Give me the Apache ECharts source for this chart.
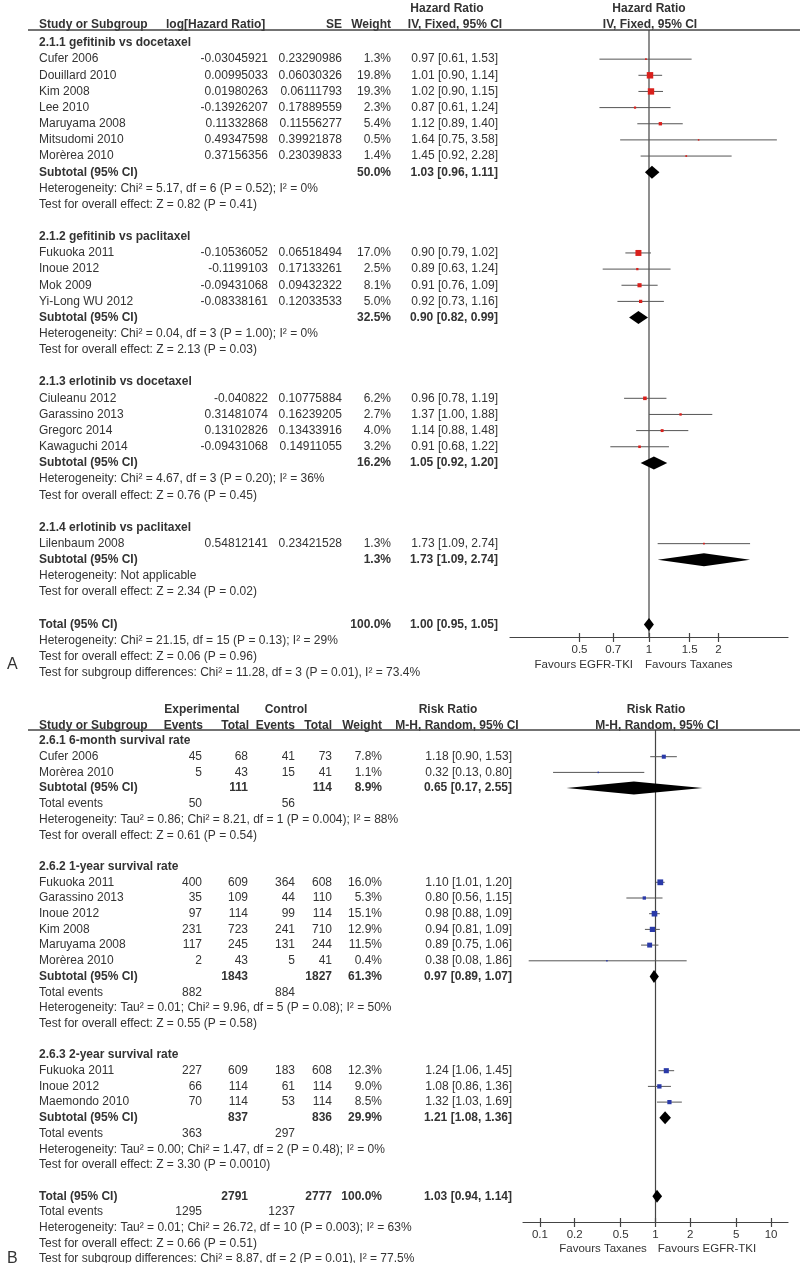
<!DOCTYPE html>
<html><head><meta charset="utf-8">
<script src="https://cdn.jsdelivr.net/npm/echarts@6/dist/echarts.min.js"></script>
<style>html,body{margin:0;padding:0;background:#fff}#c{width:800px;height:1263px}</style>
</head><body><div id="c"></div>
<script>
// ---------- Panel A data (Hazard Ratio, IV, Fixed) ----------
const groupsA = ['2.1.1 gefitinib vs docetaxel', '2.1.2 gefitinib vs paclitaxel', '2.1.3 erlotinib vs docetaxel', '2.1.4 erlotinib vs paclitaxel'];
const studyNamesA = [
  ['Cufer 2006', 'Douillard 2010', 'Kim 2008', 'Lee 2010', 'Maruyama 2008', 'Mitsudomi 2010', 'Morèrea 2010'],
  ['Fukuoka 2011', 'Inoue 2012', 'Mok 2009', 'Yi-Long WU 2012'],
  ['Ciuleanu 2012', 'Garassino 2013', 'Gregorc 2014', 'Kawaguchi 2014'],
  ['Lilenbaum 2008']
];
const logHRA = [
  [-0.03045921, 0.00995033, 0.01980263, -0.13926207, 0.11332868, 0.49347598, 0.37156356],
  [-0.10536052, -0.1199103, -0.09431068, -0.08338161],
  [-0.040822, 0.31481074, 0.13102826, -0.09431068],
  [0.54812141]
];
const seA = [
  [0.23290986, 0.06030326, 0.06111793, 0.17889559, 0.11556277, 0.39921878, 0.23039833],
  [0.06518494, 0.17133261, 0.09432322, 0.12033533],
  [0.10775884, 0.16239205, 0.13433916, 0.14911055],
  [0.23421528]
];
const weightA = [[1.3, 19.8, 19.3, 2.3, 5.4, 0.5, 1.4], [17.0, 2.5, 8.1, 5.0], [6.2, 2.7, 4.0, 3.2], [1.3]];
const hrA = [[0.97, 1.01, 1.02, 0.87, 1.12, 1.64, 1.45], [0.90, 0.89, 0.91, 0.92], [0.96, 1.37, 1.14, 0.91], [1.73]];
const hrLowA = [[0.61, 0.90, 0.90, 0.61, 0.89, 0.75, 0.92], [0.79, 0.63, 0.76, 0.73], [0.78, 1.00, 0.88, 0.68], [1.09]];
const hrHighA = [[1.53, 1.14, 1.15, 1.24, 1.40, 3.58, 2.28], [1.02, 1.24, 1.09, 1.16], [1.19, 1.88, 1.48, 1.22], [2.74]];
const subWeightA = [50.0, 32.5, 16.2, 1.3];
const subHRA = [1.03, 0.90, 1.05, 1.73];
const subLowA = [0.96, 0.82, 0.92, 1.09];
const subHighA = [1.11, 0.99, 1.20, 2.74];
const hetA = [
  'Heterogeneity: Chi² = 5.17, df = 6 (P = 0.52); I² = 0%',
  'Heterogeneity: Chi² = 0.04, df = 3 (P = 1.00); I² = 0%',
  'Heterogeneity: Chi² = 4.67, df = 3 (P = 0.20); I² = 36%',
  'Heterogeneity: Not applicable'
];
const testA = [
  'Test for overall effect: Z = 0.82 (P = 0.41)',
  'Test for overall effect: Z = 2.13 (P = 0.03)',
  'Test for overall effect: Z = 0.76 (P = 0.45)',
  'Test for overall effect: Z = 2.34 (P = 0.02)'
];
const totalA = { weight: 100.0, hr: 1.00, low: 0.95, high: 1.05 };
const totalNotesA = [
  'Heterogeneity: Chi² = 21.15, df = 15 (P = 0.13); I² = 29%',
  'Test for overall effect: Z = 0.06 (P = 0.96)',
  'Test for subgroup differences: Chi² = 11.28, df = 3 (P = 0.01), I² = 73.4%'
];
const ticksA = [0.5, 0.7, 1, 1.5, 2];

// ---------- Panel B data (Risk Ratio, M-H, Random) ----------
const groupsB = ['2.6.1 6-month survival rate', '2.6.2 1-year survival rate', '2.6.3 2-year survival rate'];
const studyNamesB = [
  ['Cufer 2006', 'Morèrea 2010'],
  ['Fukuoka 2011', 'Garassino 2013', 'Inoue 2012', 'Kim 2008', 'Maruyama 2008', 'Morèrea 2010'],
  ['Fukuoka 2011', 'Inoue 2012', 'Maemondo 2010']
];
const expEventsB = [[45, 5], [400, 35, 97, 231, 117, 2], [227, 66, 70]];
const expTotalB = [[68, 43], [609, 109, 114, 723, 245, 43], [609, 114, 114]];
const ctlEventsB = [[41, 15], [364, 44, 99, 241, 131, 5], [183, 61, 53]];
const ctlTotalB = [[73, 41], [608, 110, 114, 710, 244, 41], [608, 114, 114]];
const weightB = [[7.8, 1.1], [16.0, 5.3, 15.1, 12.9, 11.5, 0.4], [12.3, 9.0, 8.5]];
const rrB = [[1.18, 0.32], [1.10, 0.80, 0.98, 0.94, 0.89, 0.38], [1.24, 1.08, 1.32]];
const rrLowB = [[0.90, 0.13], [1.01, 0.56, 0.88, 0.81, 0.75, 0.08], [1.06, 0.86, 1.03]];
const rrHighB = [[1.53, 0.80], [1.20, 1.15, 1.09, 1.09, 1.06, 1.86], [1.45, 1.36, 1.69]];
const subExpTotalB = [111, 1843, 837];
const subCtlTotalB = [114, 1827, 836];
const subExpEventsB = [50, 882, 363];
const subCtlEventsB = [56, 884, 297];
const subWeightB = [8.9, 61.3, 29.9];
const subRRB = [0.65, 0.97, 1.21];
const subLowB = [0.17, 0.89, 1.08];
const subHighB = [2.55, 1.07, 1.36];
const hetB = [
  'Heterogeneity: Tau² = 0.86; Chi² = 8.21, df = 1 (P = 0.004); I² = 88%',
  'Heterogeneity: Tau² = 0.01; Chi² = 9.96, df = 5 (P = 0.08); I² = 50%',
  'Heterogeneity: Tau² = 0.00; Chi² = 1.47, df = 2 (P = 0.48); I² = 0%'
];
const testB = [
  'Test for overall effect: Z = 0.61 (P = 0.54)',
  'Test for overall effect: Z = 0.55 (P = 0.58)',
  'Test for overall effect: Z = 3.30 (P = 0.0010)'
];
const totalB = { expTotal: 2791, ctlTotal: 2777, expEvents: 1295, ctlEvents: 1237, weight: 100.0, rr: 1.03, low: 0.94, high: 1.14 };
const totalNotesB = [
  'Heterogeneity: Tau² = 0.01; Chi² = 26.72, df = 10 (P = 0.003); I² = 63%',
  'Test for overall effect: Z = 0.66 (P = 0.51)',
  'Test for subgroup differences: Chi² = 8.87, df = 2 (P = 0.01), I² = 77.5%'
];
const ticksB = [0.1, 0.2, 0.5, 1, 2, 5, 10];

// ---------- layout / style ----------
const FONT = '"Liberation Sans", Arial, Helvetica, sans-serif';
const TXT = '#333';
const LINE = '#555';
const colsA = [{ x: 39, a: 'left' }, { x: 268, a: 'right' }, { x: 342, a: 'right' }, { x: 391, a: 'right' }, { x: 498, a: 'right' }];
const colsB = [{ x: 39, a: 'left' }, { x: 202, a: 'right' }, { x: 248, a: 'right' }, { x: 295, a: 'right' }, { x: 332, a: 'right' }, { x: 382, a: 'right' }, { x: 512, a: 'right' }];
const fmtCI = (e, l, h) => e.toFixed(2) + ' [' + l.toFixed(2) + ', ' + h.toFixed(2) + ']';
const pct = w => w.toFixed(1) + '%';

// rows: y = first + pitch * row
const rowA = { first: 43, pitch: 16.15, top: 30, axis: 637 };
const rowB = { first: 741, pitch: 15.7, top: 730, axis: 1222 };

// ---------- build rows A ----------
const rowsA = [], marksA = [], diamondsA = [];
(function () {
  let r = 0;
  groupsA.forEach((g, gi) => {
    rowsA.push({ r: r++, bold: true, cells: [g] });
    studyNamesA[gi].forEach((n, i) => {
      rowsA.push({ r: r, bold: false, cells: [n, String(logHRA[gi][i]), String(seA[gi][i]), pct(weightA[gi][i]), fmtCI(hrA[gi][i], hrLowA[gi][i], hrHighA[gi][i])] });
      marksA.push([hrA[gi][i], hrLowA[gi][i], hrHighA[gi][i], r, weightA[gi][i]]);
      r++;
    });
    rowsA.push({ r: r, bold: true, cells: ['Subtotal (95% CI)', '', '', pct(subWeightA[gi]), fmtCI(subHRA[gi], subLowA[gi], subHighA[gi])] });
    diamondsA.push([subHRA[gi], subLowA[gi], subHighA[gi], r]);
    r++;
    rowsA.push({ r: r++, bold: false, note: true, cells: [hetA[gi]] });
    rowsA.push({ r: r++, bold: false, note: true, cells: [testA[gi]] });
    r++;
  });
  rowsA.push({ r: r, bold: true, cells: ['Total (95% CI)', '', '', pct(totalA.weight), fmtCI(totalA.hr, totalA.low, totalA.high)] });
  diamondsA.push([totalA.hr, totalA.low, totalA.high, r]);
  r++;
  totalNotesA.forEach(t => rowsA.push({ r: r++, bold: false, note: true, cells: [t] }));
})();

// ---------- build rows B ----------
const rowsB = [], marksB = [], diamondsB = [];
(function () {
  let r = 0;
  groupsB.forEach((g, gi) => {
    rowsB.push({ r: r++, bold: true, cells: [g] });
    studyNamesB[gi].forEach((n, i) => {
      rowsB.push({ r: r, bold: false, cells: [n, String(expEventsB[gi][i]), String(expTotalB[gi][i]), String(ctlEventsB[gi][i]), String(ctlTotalB[gi][i]), pct(weightB[gi][i]), fmtCI(rrB[gi][i], rrLowB[gi][i], rrHighB[gi][i])] });
      marksB.push([rrB[gi][i], rrLowB[gi][i], rrHighB[gi][i], r, weightB[gi][i]]);
      r++;
    });
    rowsB.push({ r: r, bold: true, cells: ['Subtotal (95% CI)', '', String(subExpTotalB[gi]), '', String(subCtlTotalB[gi]), pct(subWeightB[gi]), fmtCI(subRRB[gi], subLowB[gi], subHighB[gi])] });
    diamondsB.push([subRRB[gi], subLowB[gi], subHighB[gi], r]);
    r++;
    rowsB.push({ r: r++, bold: false, cells: ['Total events', String(subExpEventsB[gi]), '', String(subCtlEventsB[gi])] });
    rowsB.push({ r: r++, bold: false, note: true, cells: [hetB[gi]] });
    rowsB.push({ r: r++, bold: false, note: true, cells: [testB[gi]] });
    r++;
  });
  rowsB.push({ r: r, bold: true, cells: ['Total (95% CI)', '', String(totalB.expTotal), '', String(totalB.ctlTotal), pct(totalB.weight), fmtCI(totalB.rr, totalB.low, totalB.high)] });
  diamondsB.push([totalB.rr, totalB.low, totalB.high, r]);
  r++;
  rowsB.push({ r: r++, bold: false, cells: ['Total events', String(totalB.expEvents), '', String(totalB.ctlEvents)] });
  totalNotesB.forEach(t => rowsB.push({ r: r++, bold: false, note: true, cells: [t] }));
})();

// ---------- render helpers ----------
function txt(x, y, s, align, bold, size) {
  return { type: 'text', style: { text: s, x: x, y: y, fill: TXT, fontFamily: FONT, fontSize: size || 12, fontWeight: bold ? 'bold' : 'normal', align: align, verticalAlign: 'middle' } };
}
function textSeries(rows, cols, gi) {
  return {
    type: 'custom', xAxisIndex: gi * 2, yAxisIndex: gi, clip: false, silent: true, z: 5,
    data: rows.map(r => [1, r.r]),
    renderItem: function (params, api) {
      const row = rows[params.dataIndex];
      const y = api.coord([1, api.value(1)])[1];
      const ch = [];
      row.cells.forEach((c, i) => { if (c !== '') ch.push(txt(cols[i].x, y, c, cols[i].a, row.bold)); });
      return { type: 'group', children: ch };
    }
  };
}
function markSeries(marks, gi, color) {
  return {
    type: 'custom', xAxisIndex: gi * 2, yAxisIndex: gi, clip: false, silent: true, z: 4,
    data: marks,
    renderItem: function (params, api) {
      const c = api.coord([api.value(0), api.value(3)]);
      const l = api.coord([api.value(1), api.value(3)]);
      const h = api.coord([api.value(2), api.value(3)]);
      const s = Math.max(1.5, 1.45 * Math.sqrt(api.value(4)));
      return {
        type: 'group', children: [
          { type: 'line', shape: { x1: l[0], y1: l[1], x2: h[0], y2: h[1] }, style: { stroke: LINE, lineWidth: 1 } },
          { type: 'rect', shape: { x: c[0] - s / 2, y: c[1] - s / 2, width: s, height: s }, style: { fill: color } }
        ]
      };
    }
  };
}
function diamondSeries(ds, gi) {
  return {
    type: 'custom', xAxisIndex: gi * 2, yAxisIndex: gi, clip: false, silent: true, z: 4,
    data: ds,
    renderItem: function (params, api) {
      const c = api.coord([api.value(0), api.value(3)]);
      const l = api.coord([api.value(1), api.value(3)]);
      const h = api.coord([api.value(2), api.value(3)]);
      const hh = 6.5;
      return { type: 'polygon', shape: { points: [[l[0], c[1]], [c[0], c[1] - hh], [h[0], c[1]], [c[0], c[1] + hh]] }, style: { fill: '#000' } };
    }
  };
}
function refLineSeries(gi, yMin, yMax) {
  return {
    type: 'custom', xAxisIndex: gi * 2, yAxisIndex: gi, clip: false, silent: true, z: 3,
    data: [[1, yMin, yMax]],
    renderItem: function (params, api) {
      const a = api.coord([api.value(0), api.value(1)]);
      const b = api.coord([api.value(0), api.value(2)]);
      return { type: 'line', shape: { x1: a[0], y1: a[1], x2: b[0], y2: b[1] }, style: { stroke: '#444', lineWidth: 1.2 } };
    }
  };
}

const yMinA = (rowA.top - rowA.first) / rowA.pitch, yMaxA = (rowA.axis - rowA.first) / rowA.pitch;
const yMinB = (rowB.top - rowB.first) / rowB.pitch, yMaxB = (rowB.axis - rowB.first) / rowB.pitch;

function logX(gi, min, max, ticks) {
  return {
    type: 'log', gridIndex: gi, min: min, max: max, logBase: 10, position: 'bottom',
    axisLine: { show: true, onZero: false, lineStyle: { color: '#444', width: 1.2 } },
    axisTick: { show: true, length: 5, customValues: ticks, lineStyle: { color: '#444', width: 1.2 } },
    axisLabel: { show: true, customValues: ticks, margin: 7, color: TXT, fontFamily: FONT, fontSize: 11.5, formatter: v => String(+Number(v).toPrecision(3)) },
    splitLine: { show: false }, minorTick: { show: false }
  };
}
// companion axis: draws the upper half of each tick so ticks cross the axis line
function logXInner(gi, min, max, ticks) {
  return {
    type: 'log', gridIndex: gi, min: min, max: max, logBase: 10, position: 'bottom',
    axisLine: { show: false, onZero: false },
    axisTick: { show: true, inside: true, length: 4, customValues: ticks, lineStyle: { color: '#444', width: 1.2 } },
    axisLabel: { show: false },
    splitLine: { show: false }, minorTick: { show: false }
  };
}
function valY(gi, min, max) {
  return { type: 'value', gridIndex: gi, inverse: true, min: min, max: max, show: false, splitLine: { show: false } };
}

const hdr = (x, y, s, a, size, bold) => ({ type: 'text', x: x, y: y, silent: true, style: { text: s, x: 0, y: 0, fill: TXT, fontFamily: FONT, fontSize: size || 12, fontWeight: bold === false ? 'normal' : 'bold', align: a, verticalAlign: 'middle' } });
const hline = (y) => ({ type: 'line', silent: true, shape: { x1: 28, y1: y, x2: 800, y2: y }, style: { stroke: '#444', lineWidth: 1.3 } });

const option = {
  animation: false,
  backgroundColor: '#fff',
  grid: [
    { left: 510, width: 278, top: rowA.top, height: rowA.axis - rowA.top },
    { left: 523, width: 265, top: rowB.top, height: rowB.axis - rowB.top }
  ],
  xAxis: [logX(0, 0.25, 4, ticksA), logXInner(0, 0.25, 4, ticksA), logX(1, 1 / 14, 14, ticksB), logXInner(1, 1 / 14, 14, ticksB)],
  yAxis: [valY(0, yMinA, yMaxA), valY(1, yMinB, yMaxB)],
  graphic: [
    // Panel A header
    hdr(447, 9, 'Hazard Ratio', 'center'),
    hdr(649, 9, 'Hazard Ratio', 'center'),
    hdr(39, 25, 'Study or Subgroup', 'left'),
    hdr(166, 25, 'log[Hazard Ratio]', 'left'),
    hdr(342, 25, 'SE', 'right'),
    hdr(391, 25, 'Weight', 'right'),
    hdr(455, 25, 'IV, Fixed, 95% CI', 'center'),
    hdr(650, 25, 'IV, Fixed, 95% CI', 'center'),
    hline(30),
    hdr(633, 665, 'Favours EGFR-TKI', 'right', 11.5, false),
    hdr(645, 665, 'Favours Taxanes', 'left', 11.5, false),
    hdr(7, 665, 'A', 'left', 16, false),
    // Panel B header
    hdr(202, 710, 'Experimental', 'center'),
    hdr(286, 710, 'Control', 'center'),
    hdr(448, 710, 'Risk Ratio', 'center'),
    hdr(656, 710, 'Risk Ratio', 'center'),
    hdr(39, 726, 'Study or Subgroup', 'left'),
    hdr(203, 726, 'Events', 'right'),
    hdr(249, 726, 'Total', 'right'),
    hdr(295, 726, 'Events', 'right'),
    hdr(332, 726, 'Total', 'right'),
    hdr(382, 726, 'Weight', 'right'),
    hdr(457, 726, 'M-H, Random, 95% CI', 'center'),
    hdr(657, 726, 'M-H, Random, 95% CI', 'center'),
    hline(730),
    hdr(603, 1249, 'Favours Taxanes', 'center', 11.5, false),
    hdr(707, 1249, 'Favours EGFR-TKI', 'center', 11.5, false),
    hdr(7, 1259, 'B', 'left', 16, false)
  ],
  series: [
    refLineSeries(0, yMinA, yMaxA),
    markSeries(marksA, 0, '#d9201c'),
    diamondSeries(diamondsA, 0),
    textSeries(rowsA, colsA, 0),
    refLineSeries(1, yMinB, yMaxB),
    markSeries(marksB, 1, '#2a3aa8'),
    diamondSeries(diamondsB, 1),
    textSeries(rowsB, colsB, 1)
  ]
};
const chart = echarts.init(document.getElementById('c'), null, { renderer: 'canvas' });
chart.setOption(option);
</script>
</body></html>
